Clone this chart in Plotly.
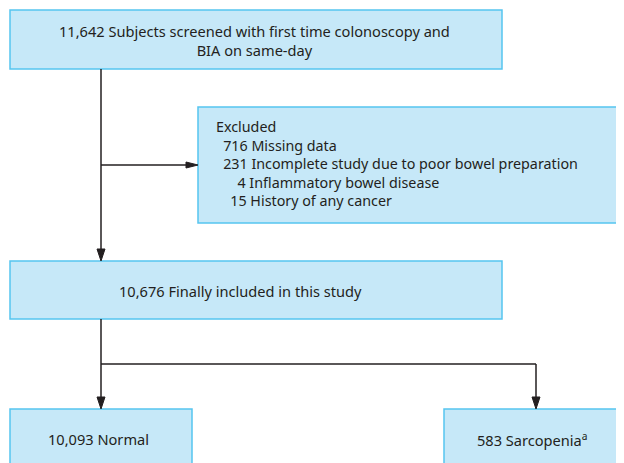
import plotly.graph_objects as go

# ---- data ----
screened_n = "11,642"
excluded_counts = ["716", "231", "4", "15"]
excluded_reasons = ["Missing data",
                    "Incomplete study due to poor bowel preparation",
                    "Inflammatory bowel disease",
                    "History of any cancer"]
included_n = "10,676"
normal_n = "10,093"
sarcopenia_n = "583"

W, H = 624, 463
OFF = 8  # page body margin
FILL = "#c6e8f8"
EDGE = "#55c5f0"
LINE = "#231f20"
FONT = "Noto Sans"
FS = 14.6

fig = go.Figure()
shapes = []
annots = []

def box(x0, y0, x1, y1):
    shapes.append(dict(type="rect", x0=x0, y0=y0, x1=x1, y1=y1,
                       xref="x", yref="y", fillcolor=FILL,
                       line=dict(color=EDGE, width=1.5), layer="below"))

def seg(x0, y0, x1, y1):
    shapes.append(dict(type="line", x0=x0, y0=y0, x1=x1, y1=y1,
                       xref="x", yref="y", line=dict(color=LINE, width=1.5)))

def head(x, y, d):
    L, w = 12, 4
    if d == "down":
        p = f"M {x} {y} L {x-w} {y-L} L {x+w} {y-L} Z"
    else:
        p = f"M {x} {y} L {x-L} {y-w+1} L {x-L} {y+w-1} Z"
    shapes.append(dict(type="path", path=p, xref="x", yref="y",
                       fillcolor=LINE, line=dict(color=LINE, width=1)))

def text(x, y, s, align="center", xanchor="center", size=FS):
    annots.append(dict(x=x, y=y, xref="x", yref="y", text=s, showarrow=False,
                       align=align, xanchor=xanchor, yanchor="middle",
                       font=dict(family=FONT, size=size, color="#231f20")))

# boxes
box(10, 10, 502, 69)
box(198, 107, 622, 223)
box(10, 261, 502, 319)
box(10, 409, 192, 470)
box(444, 409, 626, 470)

# connectors
seg(101, 69, 101, 250)
head(101, 261, "down")
seg(101, 165, 186, 165)
head(198, 165, "right")
seg(101, 319, 101, 398)
head(101, 409, "down")
seg(101, 364, 536, 364)
seg(536, 364, 536, 398)
head(536, 409, "down")

# texts
text(254, 40, f"{screened_n} Subjects screened with first time colonoscopy and<br>BIA on same-day")
pads = ["", "", "\u2002\u2002", "\u2002"]
lines = ["Excluded"] + [f"\u2002{pad}{c} {r}" for pad, c, r in zip(pads, excluded_counts, excluded_reasons)]
text(214, 163, "<br>".join(lines), align="left", xanchor="left", size=14.3)
text(240, 291, f"{included_n} Finally included in this study")
text(98, 439, f"{normal_n} Normal")
text(532, 439, f"{sarcopenia_n} Sarcopenia<sup>a</sup>")

fig.update_layout(width=W - OFF, height=H - OFF, margin=dict(l=0, r=0, t=0, b=0),
                  paper_bgcolor="white", plot_bgcolor="white",
                  shapes=shapes, annotations=annots, showlegend=False,
                  xaxis=dict(range=[OFF, W], visible=False, fixedrange=True),
                  yaxis=dict(range=[H, OFF], visible=False, fixedrange=True))
fig.write_html("out.html", config={"displayModeBar": False})
